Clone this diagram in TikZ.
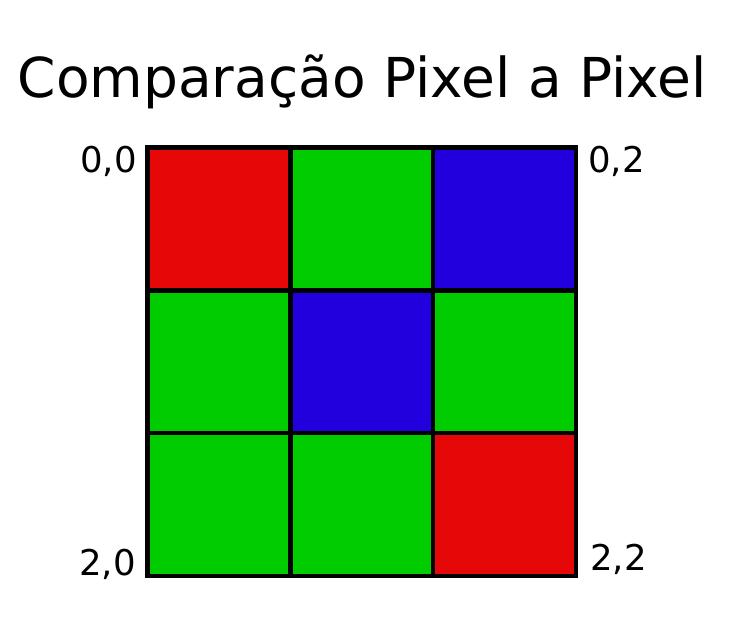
\documentclass[tikz,border=0pt]{standalone}
\usepackage{fontspec}
\setmainfont{DejaVu Sans}
\usetikzlibrary{positioning}

\definecolor{pxred}{RGB}{230,8,8}
\definecolor{pxgreen}{RGB}{0,204,0}
\definecolor{pxblue}{RGB}{34,0,221}

\begin{document}
\begin{tikzpicture}[
      x=1pt, y=-1pt,
      pixel/.style={rectangle, draw=black, line width=4.5pt,
                    minimum size=142.8pt, inner sep=0pt, outer sep=0pt},
      coord/.style={inner sep=0pt, font=\fontsize{35.5}{40}\selectfont},
      title/.style={inner sep=0pt, font=\fontsize{55}{60}\selectfont}
    ]
        \useasboundingbox (0,0) rectangle (743,620);
        \node[title, anchor=base] (ttl) at (362,98) {Comparação Pixel a Pixel};
        % 3x3 pixel grid
        \foreach \r/\c/\col in {0/0/pxred, 0/1/pxgreen, 0/2/pxblue,
                                1/0/pxgreen, 1/1/pxblue, 1/2/pxgreen,
                                2/0/pxgreen, 2/1/pxgreen, 2/2/pxred}
            \node[pixel, fill=\col] (p\r\c) at (218.9+142.8*\c, 218.9+142.8*\r) {};
        % corner indices
        \node[coord, anchor=base east] (l00) at (137,173) {0,0};
        \node[coord, anchor=base west] (l02) at (588,173) {0,2};
        \node[coord, anchor=base east] (l20) at (136,575) {2,0};
        \node[coord, anchor=base west] (l22) at (590,570) {2,2};
    \end{tikzpicture}
\end{document}
